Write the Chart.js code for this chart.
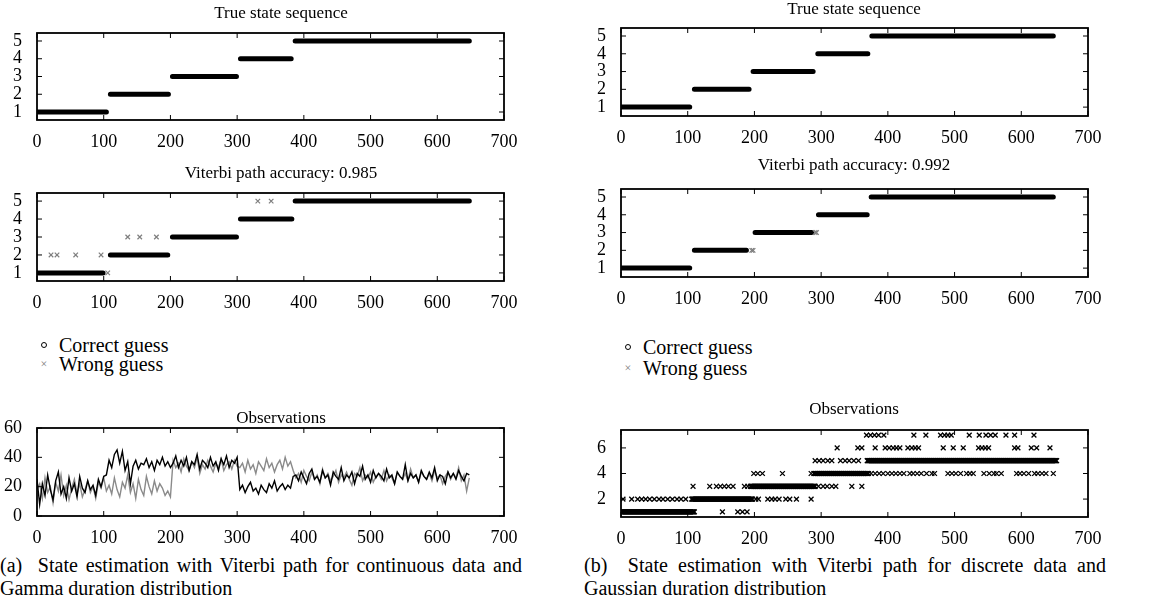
<!DOCTYPE html>
<html>
<head>
<meta charset="utf-8">
<script src="https://cdn.jsdelivr.net/npm/chart.js@4.4.1/dist/chart.umd.min.js"></script>
<style>
  body { margin: 0; background: #fff; }
  #fig { position: relative; width: 1168px; height: 614px; overflow: hidden; font-family: 'Liberation Serif', 'Times New Roman', serif; color: #000; }
  canvas { position: absolute; }
  .ttl { position: absolute; font-size: 17px; white-space: nowrap; transform: translate(-50%, -50%); }
  .leg { position: absolute; font-size: 20px; white-space: nowrap; transform: translateY(-50%); }
  .dot { position: absolute; width: 4px; height: 4px; border: 1.3px solid #000; border-radius: 50%; transform: translate(-50%, -50%); }
  .cross { position: absolute; font-size: 12px; color: #808080; transform: translate(-50%, -50%); }
  .cap { position: absolute; font-size: 20px; width: 522px; line-height: 23px; }
  .cap .l1 { text-align: justify; text-align-last: justify; }
</style>
</head>
<body>
<div id="fig">
  <canvas id="a1"></canvas><canvas id="a2"></canvas><canvas id="a3"></canvas>
  <canvas id="b1"></canvas><canvas id="b2"></canvas><canvas id="b3"></canvas>

  <div class="ttl" style="left:281px; top:13px">True state sequence</div>
  <div class="ttl" style="left:281px; top:173px">Viterbi path accuracy: 0.985</div>
  <div class="ttl" style="left:281px; top:418px">Observations</div>
  <div class="ttl" style="left:854px; top:9px">True state sequence</div>
  <div class="ttl" style="left:854px; top:165px">Viterbi path accuracy: 0.992</div>
  <div class="ttl" style="left:854px; top:409px">Observations</div>

  <div class="dot" style="left:44px; top:345px"></div>
  <div class="leg" style="left:59px; top:345px">Correct guess</div>
  <div class="cross" style="left:44px; top:364px">×</div>
  <div class="leg" style="left:59px; top:364px">Wrong guess</div>
  <div class="dot" style="left:628px; top:347px"></div>
  <div class="leg" style="left:643px; top:347px">Correct guess</div>
  <div class="cross" style="left:628px; top:368px">×</div>
  <div class="leg" style="left:643px; top:368px">Wrong guess</div>

  <div class="cap" style="left:0px; top:554px">
    <div class="l1">(a)&nbsp; State estimation with Viterbi path for continuous data and</div>
    <div>Gamma duration distribution</div>
  </div>
  <div class="cap" style="left:584px; top:554px">
    <div class="l1">(b)&nbsp; State estimation with Viterbi path for discrete data and</div>
    <div>Gaussian duration distribution</div>
  </div>
</div>
<script>
// axis ticks
const xTicks = [0, 100, 200, 300, 400, 500, 600, 700];
const stateTicks = [1, 2, 3, 4, 5];
const obsTicksA = [0, 20, 40, 60];
const obsTicksB = [2, 4, 6];
const states = [1, 2, 3, 4, 5];

// (a) continuous data, Gamma durations
const trueStartA = [1, 110, 203, 305, 387];
const trueEndA = [104, 197, 299, 381, 648];
const vitStartA = [1, 110, 203, 305, 387];
const vitEndA = [99, 196, 299, 382, 648];
const wrongTimeA = [21, 30, 58, 96, 106, 136, 154, 179, 331, 351];
const wrongStateA = [2, 2, 2, 2, 1, 3, 3, 3, 5, 5];

// observations, one value every obsStep time steps
const obsStep = 4;
const obsBlackA = [
  25, 8, 22, 14, 28, 18, 11, 24, 30, 15, 20, 12, 26, 17, 22, 13, 27, 19, 16, 24, 18, 21, 14, 25, 20, 27, 28,
  38, 33, 42, 45, 36, 44, 31, 37, 22, 34, 38, 32, 36, 35, 39, 33, 37, 31, 38, 35, 40, 34, 37, 33,
  36, 41, 33, 38, 34, 40, 31, 37, 35, 42, 32, 38, 36, 33, 40, 34, 37, 31, 39, 35, 41, 33, 38, 36, 40,
  18, 21, 16, 20, 23, 17, 19, 15, 21, 18, 16, 22, 19, 24, 17, 20, 22, 18, 21, 19, 27,
  28, 24, 30, 26, 22, 29, 32, 25, 27, 23, 31, 26, 28, 21, 30, 27, 25, 33, 24, 28,
  26, 30, 22, 29, 27, 34, 25, 28, 23, 31, 26, 29, 27, 24, 32, 26, 28, 22, 30, 27,
  25, 35, 24, 29, 26, 28, 23, 31, 27, 25, 30, 26, 33, 24, 28, 27, 22, 30, 26, 29,
  25, 31, 27, 24, 29, 28
];
const obsGrayA = [
  18, 22, 12, 26, 16, 20, 9, 23, 17, 28, 14, 21, 11, 19, 25, 15, 22, 13, 18, 24, 16, 20, 12, 23, 19, 26, 17,
  21, 15, 26, 18, 13, 23, 19, 28, 16, 22, 12, 25, 18, 14, 27, 20, 15, 24, 17, 22, 19, 14, 17, 13,
  38, 33, 36, 30, 39, 34, 31, 37, 33, 40, 29, 35, 32, 38, 34, 30, 36, 33, 39, 31, 35, 37, 32, 38, 34,
  33, 36, 30, 38, 32, 35, 29, 37, 34, 31, 39, 33, 36, 30, 35, 38, 32, 40, 34, 37, 31,
  26, 29, 23, 31, 27, 24, 30, 25, 28, 22, 32, 26, 29, 24, 27, 31, 23, 28, 26, 30,
  25, 21, 29, 27, 33, 24, 28, 26, 30, 23, 27, 29, 25, 31, 24, 28, 26, 22, 30, 27,
  25, 29, 24, 32, 26, 28, 23, 30, 27, 25, 29, 24, 31, 26, 28, 22, 27, 30, 25, 29,
  26, 33, 24, 28, 17, 26
];

// (b) discrete data, Gaussian durations
const trueStartB = [1, 110, 198, 295, 376];
const trueEndB = [103, 192, 288, 370, 648];
const vitStartB = [1, 110, 201, 296, 375];
const vitEndB = [103, 188, 286, 369, 648];
const wrongTimeB = [196, 198, 291, 293];
const wrongStateB = [2, 2, 3, 3];

// discrete observations per symbol: single times, or [from, to] for dense runs
const discObs1 = [[0, 110], 152, 175, 182, 189];
const discObs2 = [3, 16, 25, 31, 37, 43, 50, 57, 63, 70, 77, 84, 90, 97, [106, 197], 202, 206, 220, 226, 231, 237, 247, 253, 263, 285];
const discObs3 = [108, 133, 143, 149, 155, 161, 168, 185, 190, [194, 291], 296, 303, 309, 316, 322, 346, 361];
const discObs4 = [199, 205, 212, 242, 285, [289, 371], 375, 381, 387, 393, 400, 406, 412, 418, 424, 433, 438, 444, 450, 458, 466, 470,
  490, 496, 502, 509, 518, 523, 528, 544, 552, 559, 563, 570, 593, 598, 604, 611, 620, 625, 631, 637, 648];
const discObs5 = [291, 297, 303, 310, 316, 329, 336, 342, 349, 356, [369, 653]];
const discObs6 = [324, 355, 361, 381, 396, 402, 408, 413, 418, 430, 436, 441, 446, 483, 498, 513, 536, 541, 546, 551, 590, 595, 615, 623, 643];
const discObs7 = [368, 374, 380, 386, 394, 439, 457, 479, 485, 490, 495, 522, 537, 547, 554, 561, 577, 590, 619];

const FONT = { family: "'Liberation Serif', 'Times New Roman', serif", size: 18 };

function segData(starts, ends, levels) {
  const pts = [];
  levels.forEach((s, i) => {
    pts.push({ x: starts[i], y: s }, { x: ends[i], y: s }, { x: ends[i], y: null });
  });
  return pts;
}
function pairData(xs, ys) {
  return xs.map((x, i) => ({ x: x, y: ys[i] }));
}
function seriesData(vals) {
  return vals.map((v, i) => ({ x: i * obsStep, y: v }));
}
function discData(list, level) {
  const pts = [];
  list.forEach(item => {
    if (Array.isArray(item)) {
      for (let t = item[0]; t <= item[1]; t++) pts.push({ x: t, y: level });
    } else {
      pts.push({ x: item, y: level });
    }
  });
  return pts;
}

// box round the plot area with inward tick marks on all sides
const boxTicks = {
  id: 'boxTicks',
  afterDatasetsDraw(chart) {
    const { ctx, chartArea: a, scales } = chart;
    ctx.save();
    ctx.strokeStyle = '#000';
    ctx.lineWidth = 1;
    ctx.beginPath();
    scales.x.ticks.forEach(t => {
      const p = scales.x.getPixelForValue(t.value);
      ctx.moveTo(p, a.bottom); ctx.lineTo(p, a.bottom - 5);
      ctx.moveTo(p, a.top); ctx.lineTo(p, a.top + 5);
    });
    scales.y.ticks.forEach(t => {
      const p = scales.y.getPixelForValue(t.value);
      ctx.moveTo(a.left, p); ctx.lineTo(a.left + 5, p);
      ctx.moveTo(a.right, p); ctx.lineTo(a.right - 5, p);
    });
    ctx.stroke();
    ctx.lineWidth = 1.8;
    ctx.strokeRect(a.left, a.top, a.width, a.height);
    ctx.restore();
  }
};

const stateLine = data => ({
  type: 'line', data: data, borderColor: '#000', borderWidth: 5, borderCapStyle: 'round',
  pointRadius: 0, spanGaps: false, tension: 0
});
const wrongPts = data => ({
  type: 'scatter', data: data, pointStyle: 'crossRot', pointRadius: 3.2,
  borderColor: '#7f7f7f', backgroundColor: '#7f7f7f', borderWidth: 1.2
});

function makePanel(id, boxLeft, boxTop, boxW, boxH, datasets, yMin, yMax, yTicks) {
  const cv = document.getElementById(id);
  const padL = 40, padT = 24, padR = 22, padB = 32;
  cv.width = boxW + padL + padR;
  cv.height = boxH + padT + padB;
  cv.style.left = (boxLeft - padL) + 'px';
  cv.style.top = (boxTop - padT) + 'px';
  return new Chart(cv, {
    data: { datasets: datasets },
    options: {
      responsive: false,
      animation: false,
      layout: { padding: { top: padT, right: padR, left: 0, bottom: 0 } },
      plugins: { legend: { display: false }, tooltip: { enabled: false } },
      scales: {
        x: {
          type: 'linear', min: 0, max: 700,
          grid: { display: false }, border: { display: false },
          afterBuildTicks: s => { s.ticks = xTicks.map(v => ({ value: v })); },
          afterFit: s => { s.height = padB; },
          ticks: { font: FONT, color: '#000', padding: 3, maxRotation: 0, autoSkip: false }
        },
        y: {
          type: 'linear', min: yMin, max: yMax,
          grid: { display: false }, border: { display: false },
          afterBuildTicks: s => { s.ticks = yTicks.map(v => ({ value: v })); },
          afterFit: s => { s.width = padL; },
          ticks: { font: FONT, color: '#000', padding: 7, autoSkip: false }
        }
      }
    },
    plugins: [boxTicks]
  });
}

// left column (a)
makePanel('a1', 37, 33, 467, 87, [stateLine(segData(trueStartA, trueEndA, states))], 0.55, 5.45, stateTicks);
makePanel('a2', 37, 193, 467, 88, [
  wrongPts(pairData(wrongTimeA, wrongStateA)),
  stateLine(segData(vitStartA, vitEndA, states))
], 0.55, 5.45, stateTicks);
makePanel('a3', 37, 428, 467, 88, [
  { type: 'line', data: seriesData(obsBlackA), borderColor: '#000', borderWidth: 1.4, pointRadius: 0, tension: 0 },
  { type: 'line', data: seriesData(obsGrayA), borderColor: '#8a8a8a', borderWidth: 1.4, pointRadius: 0, tension: 0 }
], 0, 60, obsTicksA);

// right column (b)
makePanel('b1', 621, 28, 467, 88, [stateLine(segData(trueStartB, trueEndB, states))], 0.5, 5.45, stateTicks);
makePanel('b2', 621, 189, 467, 88, [
  wrongPts(pairData(wrongTimeB, wrongStateB)),
  stateLine(segData(vitStartB, vitEndB, states))
], 0.5, 5.45, stateTicks);
const discAll = [discObs1, discObs2, discObs3, discObs4, discObs5, discObs6, discObs7];
makePanel('b3', 621, 430, 467, 87, discAll.map((list, i) => ({
  type: 'scatter', data: discData(list, i + 1), pointStyle: 'crossRot', pointRadius: 3.4,
  borderColor: '#000', backgroundColor: '#000', borderWidth: 1.3
})), 0.6, 7.4, obsTicksB);
</script>
</body>
</html>
